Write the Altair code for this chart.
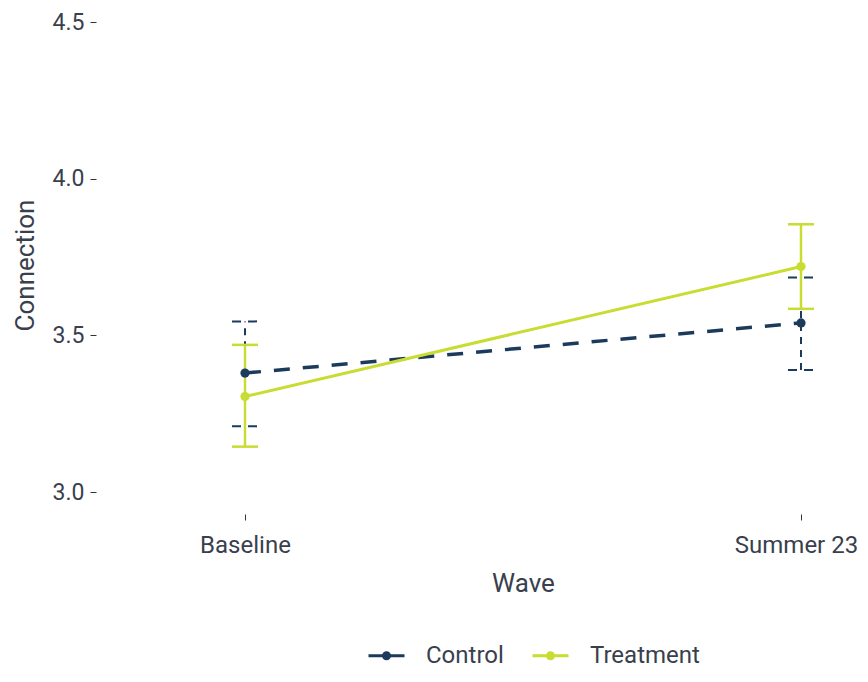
import altair as alt
import pandas as pd

waves = ["Baseline", "Summer 23"]
groups = ["Control", "Treatment"]
colors = ["#1b3a5c", "#c8dc32"]

control_mean = [3.38, 3.54]
control_low = [3.21, 3.39]
control_high = [3.545, 3.685]

treatment_mean = [3.305, 3.72]
treatment_low = [3.145, 3.585]
treatment_high = [3.47, 3.855]

y_ticks = [3.0, 3.5, 4.0, 4.5]

rows = []
for g, m, lo, hi in [("Control", control_mean, control_low, control_high),
                     ("Treatment", treatment_mean, treatment_low, treatment_high)]:
    for i, w in enumerate(waves):
        rows.append({"wave": w, "group": g, "mean": m[i], "low": lo[i], "high": hi[i]})
df = pd.DataFrame(rows)

FONT = "Roboto"
TEXT = "#3a3f4e"

legend_path = ("M-1,0L1,0"
               "M-0.167,0A0.167,0.167,0,1,1,0.167,0A0.167,0.167,0,1,1,-0.167,0"
               "M-0.06,0A0.06,0.06,0,1,1,0.06,0A0.06,0.06,0,1,1,-0.06,0")

x_enc = alt.X("wave:O", sort=waves,
              scale=alt.Scale(type="point", range=[149, 705], padding=0),
              axis=alt.Axis(title="Wave", labelAngle=0, labelPadding=13, titlePadding=13,
                            labelFontSize=24,
                            labelOffset={"condition": {"test": "datum.value == 'Summer 23'",
                                                       "value": -5},
                                         "value": 0}))
y_enc = alt.Y("mean:Q", scale=alt.Scale(domain=[2.93, 4.52], nice=False, zero=False),
              axis=alt.Axis(title="Connection", values=y_ticks, format=".1f",
                            labelPadding=6, titlePadding=14))
legend = alt.Legend(title=None, orient="none", direction="horizontal",
                    legendX=271, legendY=620, symbolType=legend_path,
                    symbolSize=1296, symbolStrokeWidth=3, labelFontSize=24,
                    labelFont=FONT, labelColor=TEXT, labelOffset=20,
                    columnPadding=22, padding=0)
color_enc = alt.Color("group:N", scale=alt.Scale(domain=groups, range=colors), legend=legend)

base = alt.Chart(df)
ctrl = base.transform_filter(alt.datum.group == "Control")
trt = base.transform_filter(alt.datum.group == "Treatment")

cap_shape = "M-1,0L1,0"

def layers(src, dashed):
    line_kw = dict(strokeWidth=3.5, strokeDash=[16, 13]) if dashed else dict(strokeWidth=3)
    bar_kw = dict(strokeWidth=2, strokeDash=[7, 6]) if dashed else dict(strokeWidth=2.5)
    cap_kw = dict(strokeWidth=2, strokeDash=[9, 7]) if dashed else dict(strokeWidth=2.5)
    line = src.mark_line(**line_kw).encode(x=x_enc, y=y_enc, color=color_enc)
    bar = src.mark_rule(**bar_kw).encode(x=x_enc, y=alt.Y("low:Q"), y2="high:Q", color=color_enc)
    cap_lo = src.mark_point(shape=cap_shape, size=676, filled=False, opacity=1, **cap_kw).encode(
        x=x_enc, y=alt.Y("low:Q"), color=color_enc)
    cap_hi = src.mark_point(shape=cap_shape, size=676, filled=False, opacity=1, **cap_kw).encode(
        x=x_enc, y=alt.Y("high:Q"), color=color_enc)
    pts = src.mark_point(filled=True, size=85, opacity=1, shape="circle").encode(
        x=x_enc, y=y_enc, color=color_enc)
    return line, [bar, cap_lo, cap_hi], pts

c_line, c_err, c_pts = layers(ctrl, True)
t_line, t_err, t_pts = layers(trt, False)

chart = alt.layer(c_line, t_line, *c_err, *t_err, c_pts, t_pts).properties(
    width=764, height=498,
    autosize=alt.AutoSizeParams(type="none"),
    padding={"left": 88, "top": 8, "right": 0, "bottom": 160},
    background="white",
).configure_view(stroke=None).configure_axis(
    grid=False, domain=False, tickColor="#333333", tickSize=6, tickWidth=1,
    labelFont=FONT, labelFontSize=23, labelColor=TEXT,
    titleFont=FONT, titleFontSize=26, titleColor=TEXT, titleFontWeight="normal",
)

chart.save("out.html", embed_options={"renderer": "svg", "actions": False})
